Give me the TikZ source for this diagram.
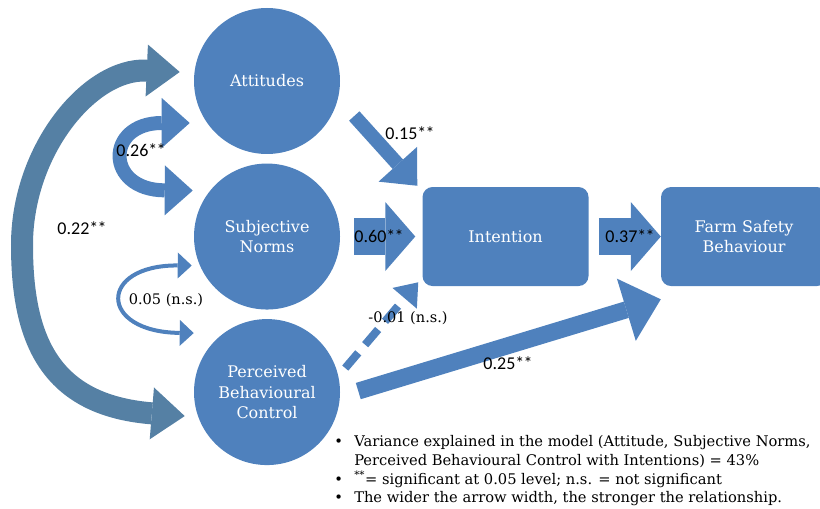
\documentclass[tikz,border=0pt]{standalone}
\usepackage{fontspec}
\setmainfont{DejaVu Serif}
\newfontfamily\calib{Carlito}
\usetikzlibrary{arrows.meta,positioning}
\definecolor{officeblue}{HTML}{4F81BD}
\definecolor{steelarc}{HTML}{5580A4}
\newcommand{\itm}{\makebox[15pt][l]{\textbullet}}
\newcommand{\sig}{\textsuperscript{**}}
\newcommand{\sigc}{*\kern-0.6pt*}
\tikzset{
  latent/.style={circle,fill=officeblue,minimum size=109.5pt,inner sep=0pt,align=center,text=white,font=\fontsize{12}{15.4}\selectfont},
  construct/.style={rounded corners=7.5pt,fill=officeblue,minimum width=124.5pt,minimum height=74.25pt,inner sep=0pt,align=center,text=white,font=\fontsize{12}{15.4}\selectfont},
  coef/.style={font=\calib\fontsize{13.5}{16}\selectfont,inner sep=0pt},
  nscoef/.style={font=\fontsize{10.9}{13}\selectfont,inner sep=0pt},
  notes/.style={align=left,inner sep=0pt,font=\fontsize{11}{14.1}\selectfont},
  widearrow/.style={draw=officeblue,line width=27.75pt,-{Triangle[length=22.5pt,width=51.75pt,line width=0pt]}},
  slimarrow/.style={draw=officeblue,line width=10.5pt,-{Triangle[length=21.75pt,width=39pt,line width=0pt]}},
  longarrow/.style={draw=officeblue,line width=12.75pt,-{Triangle[length=27pt,width=48.75pt,line width=0pt]}},
  nsarrow/.style={draw=officeblue,line width=6pt,dash pattern=on 15pt off 8pt,-{Triangle[length=15.75pt,width=24pt,line width=0pt]}},
  arcarrow/.style={draw=steelarc,line width=16.5pt,{Triangle[length=24.75pt,width=39pt,line width=0pt]}-{Triangle[length=24.75pt,width=39pt,line width=0pt]}},
  curlarrow/.style={draw=officeblue,line width=10.5pt,{Triangle[length=21pt,width=37.5pt,line width=0pt]}-{Triangle[length=21pt,width=37.5pt,line width=0pt]}},
  thinarrow/.style={draw=officeblue,line width=3pt,{Triangle[length=10.5pt,width=19.5pt,line width=0pt]}-{Triangle[length=10.5pt,width=19.5pt,line width=0pt]}}
}
\begin{document}
\begin{tikzpicture}[x=0.75pt,y=-0.75pt]
  \useasboundingbox (0,0) rectangle (820,509);
  \node[latent] (att) at (267,81) {Attitudes};
  \node[latent,below=6.75pt of att] (sn) {Subjective\\Norms};
  \node[latent,below=6.75pt of sn] (pbc) {Perceived\\Behavioural\\Control};
  \node[construct,right=61.5pt of sn] (int) {Intention};
  \node[construct,right=54pt of int] (beh) {Farm Safety\\Behaviour};

  % paths into intention and behaviour
  \draw[widearrow,shorten <=10.5pt,shorten >=5.25pt] (sn.east |- int.west) -- (int.west);
  \draw[widearrow,shorten <=7.5pt] (int.east) -- (beh.west);
  \draw[slimarrow] ([shift={(14,35)}]att.east) -- ([shift={(-5,-1)}]int.north west);
  \draw[longarrow] ([shift={(18,-1)}]pbc.east) -- ([shift={(0,13)}]beh.south west);
  \draw[nsarrow] ([shift={(5,-24)}]pbc.east) -- ([shift={(-4,-4)}]int.south west);

  % correlations
  \draw[arcarrow] ([shift={(-9,24)}]pbc.west) .. controls (50,405) and (22,340) .. (22,245)
    .. controls (22,150) and (90,68) .. ([shift={(-14,-9)}]att.west);
  \draw[curlarrow] ([shift={(-4,42)}]att.west) .. controls (105,123) and (105,190) .. ([shift={(-1,-46)}]sn.west);
  \draw[thinarrow] ([shift={(-2,29)}]sn.west) .. controls (98,265) and (98,332) .. ([shift={(0,-59)}]pbc.west);

  \node[coef] (c15) at (410,133) {0.15\sigc};
  \node[coef] (c26) at (141,150) {0.26\sigc};
  \node[coef] (c22) at (82,228) {0.22\sigc};
  \node[coef] (c60) at (379,236) {0.60\sigc};
  \node[coef] (c37) at (630,236) {0.37\sigc};
  \node[coef] (c25) at (508,363) {0.25\sigc};
  \node[nscoef] (c05) at (166,300) {0.05 (n.s.)};
  \node[nscoef] (c01) at (408,318) {-0.01 (n.s.)};

  \node[notes,anchor=north west] (key) at (334,435) {\itm Variance explained in the model (Attitude, Subjective Norms,\\
    \hspace*{15pt}Perceived Behavioural Control with Intentions) = 43\%\\
    \itm\sig= significant at 0.05 level; n.s. = not significant\\
    \itm The wider the arrow width, the stronger the relationship.};
\end{tikzpicture}
\end{document}
